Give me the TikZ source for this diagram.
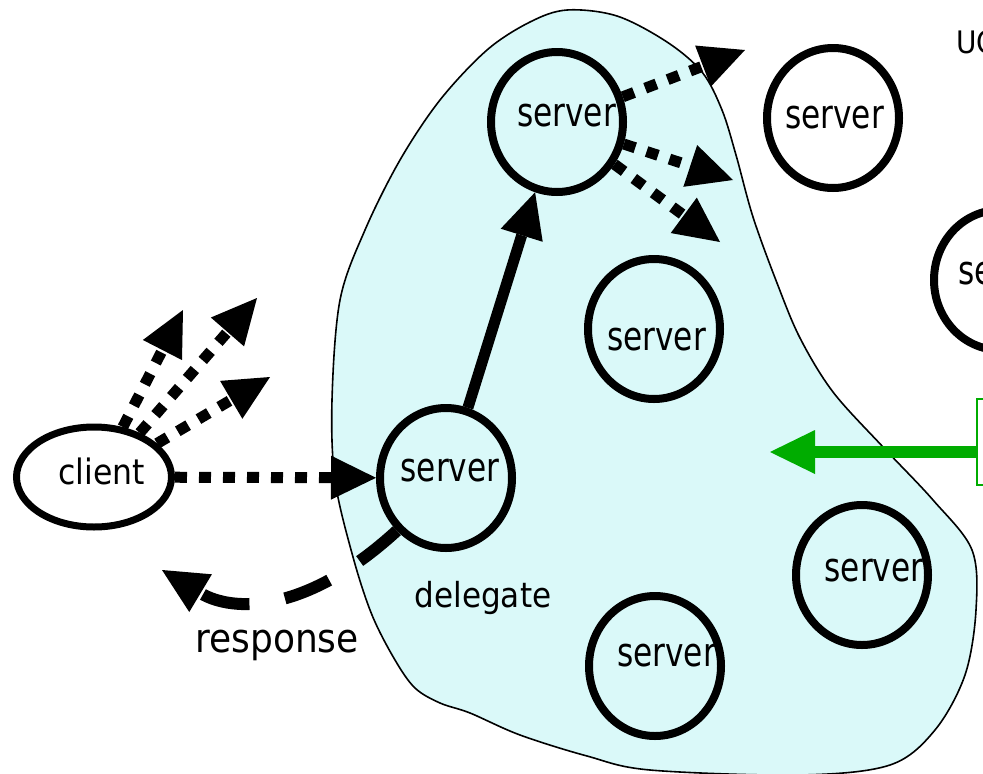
\documentclass[tikz,border=0pt]{standalone}
\usepackage{fontspec}
\setmainfont[FakeStretch=0.9]{DejaVu Sans}
\newfontfamily\narrowsans[FakeStretch=0.78]{DejaVu Sans}
\usetikzlibrary{arrows.meta,shapes.geometric}

\definecolor{zonefill}{RGB}{218,249,249}
\definecolor{linkgreen}{RGB}{0,172,0}

% text set off-centre in a node: #1 = twice the shift, #2 = raise, #3 = text
\newcommand{\offtext}[3]{\makebox[0pt]{\hspace*{#1}\smash{\raisebox{#2}{#3}}}}

\tikzset{
  zone/.style={fill=zonefill, draw=black, line width=1.6pt},
  ring/.style={draw, ellipse, line width=8pt, inner sep=0pt,
    minimum width=132pt, minimum height=140pt,
    font=\narrowsans\fontsize{40}{44}\selectfont},
  cli/.style={draw, ellipse, line width=7pt, inner sep=0pt,
    minimum width=155pt, minimum height=100pt,
    font=\fontsize{35}{40}\selectfont},
  bighead/.style={-{Triangle[length=45pt,width=44pt,line width=0pt]}},
  dotarr/.style={bighead, line width=11pt, dash pattern=on 12pt off 12pt},
  solarr/.style={bighead, line width=11pt},
  resparr/.style={bighead, line width=12pt, dash pattern=on 48pt off 36pt},
  grnarr/.style={bighead, draw=linkgreen, fill=linkgreen, line width=12pt},
  grnbox/.style={draw=linkgreen, line width=2pt, minimum width=130pt, minimum height=86pt},
  lbl/.style={inner sep=0pt, anchor=base}
}

\begin{document}
\begin{tikzpicture}[x=1pt,y=-1pt]
  \useasboundingbox (0,0) rectangle (983,774);
  \clip (0,0) rectangle (983,774);
  \fill[white] (0,0) rectangle (983,774);

  % shaded area holding the servers
  \filldraw[zone] plot[smooth cycle, tension=0.55] coordinates {
    (567,10) (617,16) (667,42) (702,72) (722,110) (736,155) (753,217)
    (777,283) (800,338) (833,392) (883,447) (933,500) (972,550)
    (976,610) (965,675) (935,730) (890,765) (800,775) (650,770)
    (587,756) (520,735) (470,713) (440,703) (415,688) (395,660)
    (372,615) (353,557) (335,480) (332,400) (340,300) (365,230)
    (400,160) (440,100) (487,50) (530,22)};

  \node[cli] (client) at (94,477) {\offtext{15pt}{-7pt}{client}};
  \node[ring] (srvdel) at (446,478) {\offtext{8pt}{-3pt}{server}};
  \node[ring] (srvtop) at (557,122) {\offtext{19pt}{-4pt}{server}};
  \node[ring] (srvne) at (833,118) {\offtext{3pt}{-10pt}{server}};
  \node[ring] (srvfar) at (1000,280) {\offtext{16pt}{-4pt}{server}};
  \node[ring] (srvmid) at (654,329) {\offtext{5pt}{-21pt}{server}};
  \node[ring] (srvright) at (862,575) {\offtext{24pt}{-6pt}{server}};
  \node[ring] (srvlow) at (655,666) {\offtext{23pt}{0pt}{server}};
  \node[grnbox, anchor=west] (gbox) at (976,441.5) {};

  \node[lbl, font=\fontsize{34.5}{38}\selectfont] (dlg) at (483,607) {delegate};
  \node[lbl, font=\fontsize{40}{44}\selectfont] (resp) at (277,652) {response};
  \node[lbl, anchor=base west, font=\fontsize{31}{34}\selectfont] (uc) at (956,53) {UC};

  % free ends of the fan-out arrows
  \coordinate (c1) at (183,310);
  \coordinate (c2) at (257,298);
  \coordinate (c3) at (270,377);
  \coordinate (t1) at (745,50);
  \coordinate (t2) at (733,180);
  \coordinate (t3) at (720,242);
  \coordinate (back) at (162,570);
  \coordinate (gtip) at (770,452);

  \draw[dotarr] (client) -- (srvdel);
  \draw[dotarr] (client.60) -- (c1);
  \draw[dotarr] (client.44) -- (c2);
  \draw[dotarr] (client.28) -- (c3);
  \draw[solarr] (srvdel) -- (srvtop);
  \draw[dotarr] (srvtop) -- (t1);
  \draw[dotarr] (srvtop) -- (t2);
  \draw[dotarr] (srvtop) -- (t3);
  \draw[resparr] (srvdel.227) .. controls (305,615) and (232,612) .. (back);
  \draw[grnarr] (gbox.west |- gtip) -- (gtip);
\end{tikzpicture}
\end{document}
